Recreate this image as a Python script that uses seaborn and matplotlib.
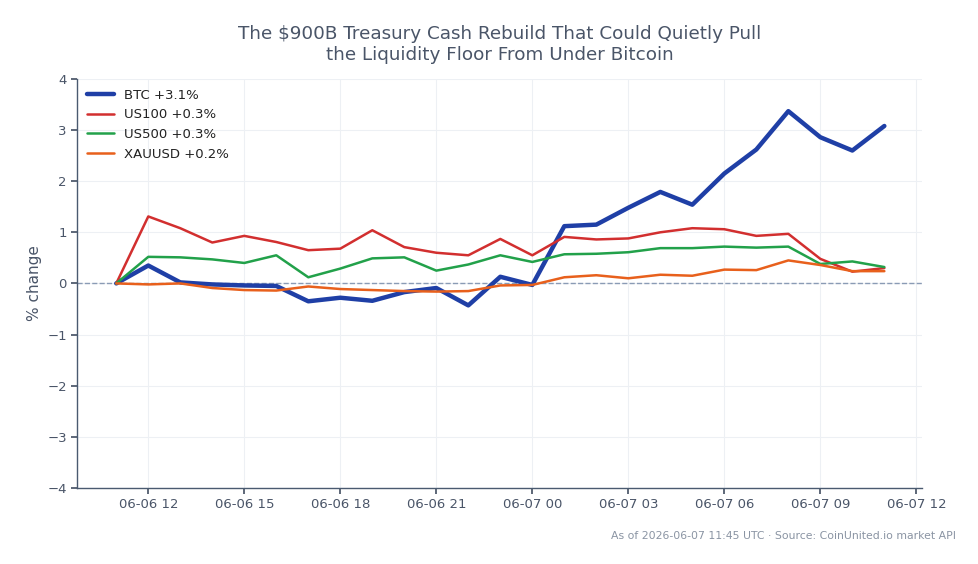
import numpy as np
import pandas as pd
import matplotlib
matplotlib.use("Agg")
import matplotlib.pyplot as plt
import matplotlib.dates as mdates
import seaborn as sns

# hourly % change, 2026-06-06 11:00 -> 2026-06-07 11:00
times = pd.date_range("2026-06-06 11:00", "2026-06-07 11:00", freq="h")
btc = [0, 0.35, 0.02, -0.02, -0.04, -0.05, -0.35, -0.28, -0.34, -0.17, -0.09, -0.43, 0.13,
       -0.03, 1.12, 1.15, 1.48, 1.79, 1.54, 2.15, 2.62, 3.37, 2.86, 2.60, 3.08]
us100 = [0, 1.31, 1.08, 0.80, 0.93, 0.81, 0.65, 0.68, 1.04, 0.71, 0.60, 0.55, 0.87,
         0.55, 0.91, 0.86, 0.88, 1.00, 1.08, 1.06, 0.93, 0.97, 0.48, 0.23, 0.30]
us500 = [0, 0.52, 0.51, 0.47, 0.40, 0.55, 0.12, 0.29, 0.49, 0.51, 0.25, 0.37, 0.55,
         0.42, 0.57, 0.58, 0.61, 0.69, 0.69, 0.72, 0.70, 0.72, 0.38, 0.43, 0.32]
xauusd = [0, -0.02, 0.0, -0.09, -0.13, -0.14, -0.06, -0.11, -0.13, -0.15, -0.16, -0.15, -0.04,
          -0.03, 0.12, 0.16, 0.10, 0.17, 0.15, 0.27, 0.26, 0.45, 0.36, 0.24, 0.24]

labels = ["BTC +3.1%", "US100 +0.3%", "US500 +0.3%", "XAUUSD +0.2%"]
colors = ["#1f3fa6", "#d22f2f", "#22a14a", "#e8601c"]
widths = [3.2, 1.8, 1.8, 1.8]

df = pd.DataFrame({"time": times, labels[0]: btc, labels[1]: us100,
                   labels[2]: us500, labels[3]: xauusd})
long = df.melt(id_vars="time", var_name="asset", value_name="pct")

sns.set_theme(style="whitegrid")
text_col = "#4a5568"

fig, ax = plt.subplots(figsize=(9.79, 5.64), dpi=100)
fig.subplots_adjust(left=0.079, right=0.942, top=0.86, bottom=0.135)

for lab, col, lw in zip(labels, colors, widths):
    sns.lineplot(data=long[long["asset"] == lab], x="time", y="pct", color=col,
                 linewidth=lw, label=lab, ax=ax)

ax.axhline(0, color="#8a9bb5", linestyle="--", linewidth=1, zorder=1)

ax.set_ylim(-4, 4)
ax.set_xlim(pd.Timestamp("2026-06-06 09:47"), pd.Timestamp("2026-06-07 12:11"))
ax.xaxis.set_major_locator(mdates.HourLocator(byhour=[0, 3, 6, 9, 12, 15, 18, 21]))
ax.xaxis.set_major_formatter(mdates.DateFormatter("%m-%d %H"))

ax.grid(True, color="#edf0f4", linewidth=0.8)
for s in ["top", "right"]:
    ax.spines[s].set_visible(False)
for s in ["left", "bottom"]:
    ax.spines[s].set_color("#4a5a70")
    ax.spines[s].set_linewidth(1)
ax.tick_params(axis="both", colors=text_col, labelsize=9.5, length=4, direction="out",
               bottom=True, left=True)
ax.set_xlabel("")
ax.set_ylabel("% change", color=text_col, fontsize=11)
ax.set_title("The $900B Treasury Cash Rebuild That Could Quietly Pull\nthe Liquidity Floor From Under Bitcoin",
             color=text_col, fontsize=13.2, pad=14)

leg = ax.legend(loc="upper left", frameon=False, fontsize=9.5, handlelength=2.0,
                borderaxespad=0.35)
for t in leg.get_texts():
    t.set_color("#222222")

fig.text(0.976, 0.05, "As of 2026-06-07 11:45 UTC · Source: CoinUnited.io market API",
         ha="right", va="center", fontsize=7.8, color="#8a94a3")

fig.savefig("out.png", dpi=100)
